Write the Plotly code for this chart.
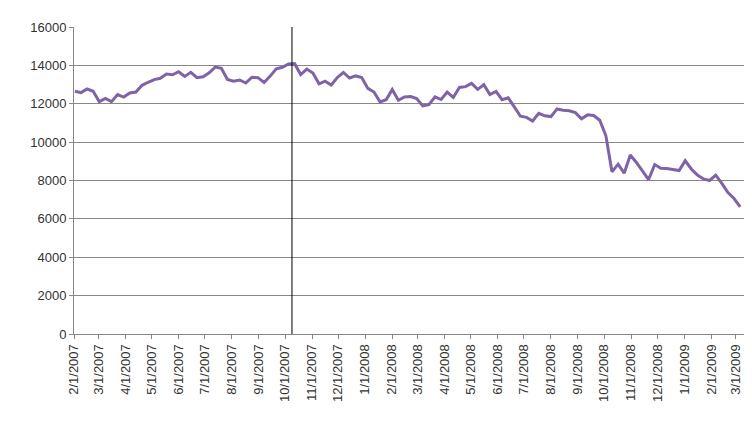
import plotly.graph_objects as go
import pandas as pd

dates = pd.date_range("2007-02-02", periods=110, freq="W-FRI").strftime("%Y-%m-%d").tolist()
values = [12650,12580,12770,12650,12110,12280,12110,12480,12350,12560,12610,12960,13120,13260,13330,13550,13510,13670,13420,13640,13360,13410,13610,13910,13850,13270,13180,13240,13080,13380,13360,13110,13440,13820,13900,14070,14090,13520,13810,13600,13040,13180,12980,13370,13630,13340,13450,13370,
12800,12610,12100,12210,12740,12180,12350,12380,12270,11890,11950,12360,12220,12610,12330,12850,12890,13060,12750,12990,12480,12640,12210,12310,11840,11350,11290,11100,11500,11370,11330,11730,11660,11630,11540,11220,11420,11390,11140,10330,8450,8850,8380,9330,8940,8500,8050,8830,8640,8630,8580,8520,
9030,8600,8280,8080,8000,8280,7850,7370,7060,6630]
event_date = "2007-10-09"
tick_dates = pd.date_range("2007-02-01", "2009-03-01", freq="MS").strftime("%Y-%m-%d").tolist()
tick_labels = [pd.Timestamp(d).strftime("%-m/%-d/%Y") for d in tick_dates]

fig = go.Figure(go.Scatter(x=dates, y=values, mode="lines",
                           line=dict(color="#7F63A8", width=3)))
fig.add_shape(type="line", x0=event_date, x1=event_date, y0=0, y1=16000,
              xref="x", yref="y", line=dict(color="black", width=1))
fig.update_layout(width=752, height=435, margin=dict(l=66, r=12, t=17, b=109),
                  plot_bgcolor="white", paper_bgcolor="white", showlegend=False,
                  font=dict(family="Liberation Sans", size=13, color="#333"))
fig.update_xaxes(range=["2007-02-01", "2009-03-15"], tickvals=tick_dates, ticktext=tick_labels,
                 tickangle=-90, showgrid=False, showline=True, linecolor="#888",
                 ticks="outside", ticklen=4, tickcolor="#888")
fig.update_yaxes(range=[0, 16000], dtick=2000, tickformat="d", showgrid=True, gridcolor="#888",
                 showline=True, linecolor="#888", ticks="outside", ticklen=4, tickcolor="#888",
                 zeroline=False)
fig.write_html("out.html")
